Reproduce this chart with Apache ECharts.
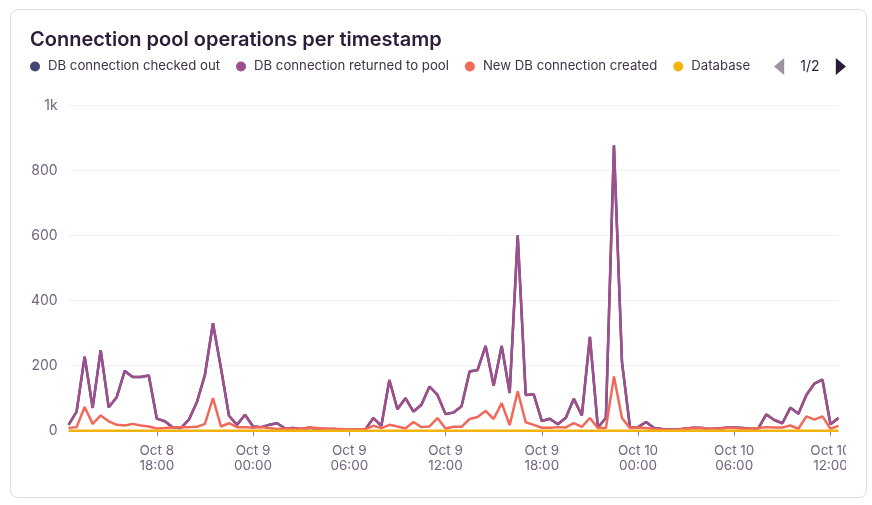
<!DOCTYPE html>
<html><head><meta charset="utf-8">
<script src="https://cdn.jsdelivr.net/npm/echarts@6/dist/echarts.min.js"></script>
<style>
html,body{margin:0;padding:0;background:#fff;}
#card{position:absolute;left:10px;top:9px;width:857px;height:489px;border:1px solid #e0dce5;border-radius:8px;box-sizing:border-box;}
#chart{position:absolute;left:10px;top:9px;width:836px;height:488px;}
</style></head><body>
<div id="card"></div><div id="chart"></div>
<script>
var categories = [
 "Oct 8 12:30","Oct 8 13:00","Oct 8 13:30","Oct 8 14:00","Oct 8 14:30","Oct 8 15:00","Oct 8 15:30","Oct 8 16:00","Oct 8 16:30","Oct 8 17:00","Oct 8 17:30","Oct 8 18:00",
 "Oct 8 18:30","Oct 8 19:00","Oct 8 19:30","Oct 8 20:00","Oct 8 20:30","Oct 8 21:00","Oct 8 21:30","Oct 8 22:00","Oct 8 22:30","Oct 8 23:00","Oct 8 23:30",
 "Oct 9 00:00","Oct 9 00:30","Oct 9 01:00","Oct 9 01:30","Oct 9 02:00","Oct 9 02:30","Oct 9 03:00","Oct 9 03:30","Oct 9 04:00","Oct 9 04:30","Oct 9 05:00","Oct 9 05:30",
 "Oct 9 06:00","Oct 9 06:30","Oct 9 07:00","Oct 9 07:30","Oct 9 08:00","Oct 9 08:30","Oct 9 09:00","Oct 9 09:30","Oct 9 10:00","Oct 9 10:30","Oct 9 11:00","Oct 9 11:30",
 "Oct 9 12:00","Oct 9 12:30","Oct 9 13:00","Oct 9 13:30","Oct 9 14:00","Oct 9 14:30","Oct 9 15:00","Oct 9 15:30","Oct 9 16:00","Oct 9 16:30","Oct 9 17:00","Oct 9 17:30",
 "Oct 9 18:00","Oct 9 18:30","Oct 9 19:00","Oct 9 19:30","Oct 9 20:00","Oct 9 20:30","Oct 9 21:00","Oct 9 21:30","Oct 9 22:00","Oct 9 22:30","Oct 9 23:00","Oct 9 23:30",
 "Oct 10 00:00","Oct 10 00:30","Oct 10 01:00","Oct 10 01:30","Oct 10 02:00","Oct 10 02:30","Oct 10 03:00","Oct 10 03:30","Oct 10 04:00","Oct 10 04:30","Oct 10 05:00","Oct 10 05:30",
 "Oct 10 06:00","Oct 10 06:30","Oct 10 07:00","Oct 10 07:30","Oct 10 08:00","Oct 10 08:30","Oct 10 09:00","Oct 10 09:30","Oct 10 10:00","Oct 10 10:30","Oct 10 11:00","Oct 10 11:30",
 "Oct 10 12:00","Oct 10 12:30"
];
var tickTimes = ["00:00","06:00","12:00","18:00"];
var yTicks = [0, 200, 400, 600, 800, 1000];

var checkedOut = [18,59,228,70,248,72,103,184,165,165,170,37,29,10,8,34,88,172,331,192,46,18,49,13,11,18,23,7,8,5,9,6,5,5,4,3,3,4,39,15,156,66,100,59,80,136,110,51,56,75,182,187,261,138,261,116,601,110,112,30,37,20,40,98,47,289,9,40,878,212,10,11,27,8,5,4,4,7,9,8,5,7,9,10,8,6,7,50,33,23,71,52,110,145,157,20,39];
var returnedToPool = [18,59,228,70,248,72,103,184,165,165,170,37,29,10,8,34,88,172,330,192,46,18,49,13,11,18,23,7,8,5,9,6,5,5,4,3,3,4,39,15,156,66,100,59,80,136,110,51,56,75,182,187,261,138,261,116,600,110,112,30,37,20,40,98,47,289,9,40,877,212,10,11,27,8,5,4,4,7,9,8,5,7,9,10,8,6,7,50,33,23,71,52,110,145,157,20,39];
var newConnCreated = [8,11,73,21,47,29,18,16,21,16,13,7,8,10,11,11,12,21,100,13,23,11,11,9,11,8,5,6,6,5,10,8,6,5,5,4,4,5,15,8,18,13,7,27,11,13,39,7,12,12,36,42,61,36,85,17,121,26,18,9,9,11,10,23,12,39,8,8,167,39,8,10,8,5,3,3,3,7,8,8,5,6,8,8,6,6,8,11,10,10,16,6,44,34,44,6,15];
var database = [0,0,0,0,0,0,0,0,0,0,0,0,0,0,0,0,0,0,0,0,0,0,0,0,0,0,0,0,0,0,0,0,0,0,0,0,0,0,0,0,0,0,0,0,0,0,0,0,0,0,0,0,0,0,0,0,0,0,0,0,0,0,0,0,0,0,0,0,0,0,0,0,0,0,0,0,0,0,0,0,0,0,0,0,0,0,0,0,0,0,0,0,0,0,0,0,0];
var dbConnClosed = [];

var seriesNames = ["DB connection checked out","DB connection returned to pool","New DB connection created","Database","DB connection closed"];
var colors = ["#444674","#9e4f8c","#f2695a","#f2b40c","#b85586"];

function isTick(idx, val){ var t = val.split(" ")[2]; return tickTimes.indexOf(t) >= 0; }

var chart = echarts.init(document.getElementById('chart'), null, {renderer:'canvas'});
var font = 'Inter, "Noto Sans", sans-serif';
var mk = function(name, data, color){
  return {name:name, type:'line', data:data, showSymbol:false, symbol:'none',
    lineStyle:{width:2.5, color:color}, itemStyle:{color:color}, animation:false};
};
chart.setOption({
  animation:false,
  color: colors,
  title:{text:'Connection pool operations per timestamp', left:20, top:21, padding:0,
    textStyle:{fontFamily:font, fontWeight:600, fontSize:20, color:'#2b1d38'}},
  legend:{type:'scroll', left:20, right:0, top:49, padding:0, icon:'circle', itemWidth:10, itemHeight:10, itemGap:16,
    data:seriesNames,
    textStyle:{fontFamily:font, fontSize:13.2, color:'#3e3446', padding:[0,0,0,3]},
    pageIconColor:'#2b1d38', pageIconInactiveColor:'#9e93a5', pageIconSize:[11,17],
    pageTextStyle:{color:'#2b1d38', fontSize:14, fontFamily:font}, pageButtonItemGap:8, pageButtonGap:15},
  grid:{left:58.6, right:7.5, top:96.7, bottom:66.3, containLabel:false, outerBoundsMode:'none'},
  xAxis:{type:'category', boundaryGap:false, data:categories,
    axisLine:{show:true, lineStyle:{color:'#e0dce5'}},
    axisTick:{show:true, alignWithLabel:true, interval:isTick, length:5, lineStyle:{color:'#80708f'}},
    axisLabel:{interval:isTick, color:'#71637e', fontFamily:font, fontSize:13.5, lineHeight:15, margin:13, hideOverlap:false,
      formatter:function(v){ var p=v.split(" "); return p[0]+" "+p[1]+"\n"+p[2]; }},
    splitLine:{show:false}},
  yAxis:{type:'value', min:yTicks[0], max:yTicks[yTicks.length-1], interval:200,
    axisLine:{show:false}, axisTick:{show:false},
    axisLabel:{color:'#71637e', fontFamily:font, fontSize:14, margin:11,
      formatter:function(v){ return v>=1000 ? (v/1000)+'k' : String(v); }},
    splitLine:{lineStyle:{color:'#f2f0f4'}}},
  series:[
    mk(seriesNames[0], checkedOut, colors[0]),
    mk(seriesNames[1], returnedToPool, colors[1]),
    mk(seriesNames[2], newConnCreated, colors[2]),
    mk(seriesNames[3], database, colors[3]),
    mk(seriesNames[4], dbConnClosed, colors[4])
  ]
});
</script></body></html>
